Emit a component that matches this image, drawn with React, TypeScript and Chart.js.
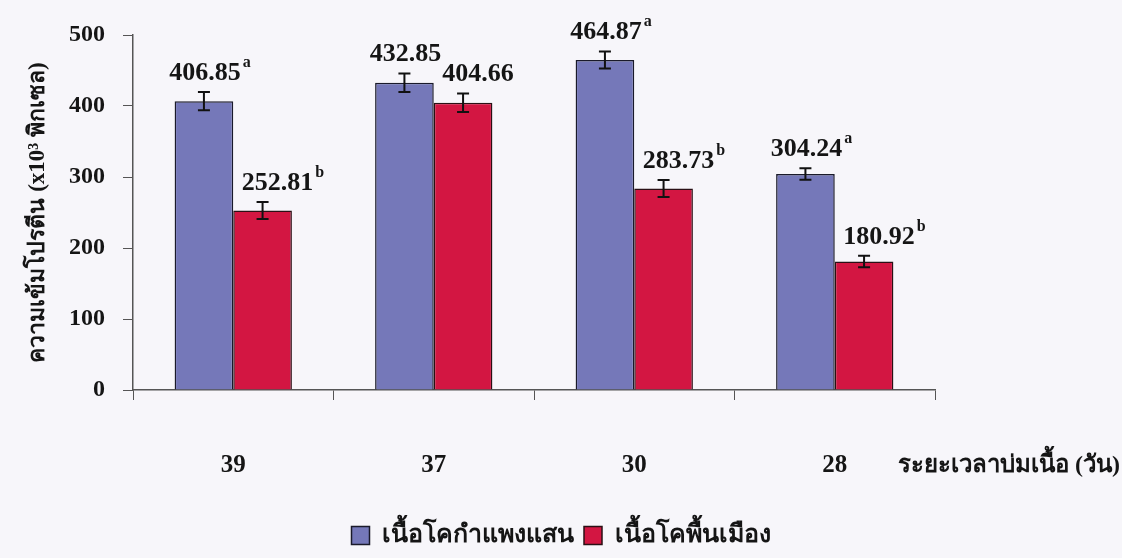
import React, { useEffect, useRef } from "react";
import { Chart, registerables } from "chart.js";

Chart.register(...registerables);

const categories = ["39", "37", "30", "28"];
const seriesNames = ["เนื้อโคกำแพงแสน", "เนื้อโคพื้นเมือง"];
const kamphaengsaen = [406.85, 432.85, 464.87, 304.24];
const native = [252.81, 404.66, 283.73, 180.92];
const kamphaengsaenErr = [13, 13, 12, 8];
const nativeErr = [12, 13, 12, 8];
const kamphaengsaenSig = ["a", "", "a", "a"];
const nativeSig = ["b", "", "b", "b"];
const yTicks = [0, 100, 200, 300, 400, 500];
const yTitle = "ความเข้มโปรตีน (x10³ พิกเซล)";
const xTitle = "ระยะเวลาบ่มเนื้อ (วัน)";

const SERIF = '"Liberation Serif", "Times New Roman", serif';
const errs = [kamphaengsaenErr, nativeErr];
const sigs = [kamphaengsaenSig, nativeSig];

const bgPlugin = {
  id: "bg",
  beforeDraw(chart: any) {
    const { ctx, width, height } = chart;
    ctx.save();
    ctx.fillStyle = "#f7f6fa";
    ctx.fillRect(0, 0, width, height);
    ctx.restore();
  },
};

const errLabelPlugin = {
  id: "errLabel",
  afterDatasetsDraw(chart: any) {
    const { ctx } = chart;
    const yScale = chart.scales.y;
    chart.data.datasets.forEach((ds: any, di: number) => {
      const meta = chart.getDatasetMeta(di);
      meta.data.forEach((bar: any, i: number) => {
        const v = ds.data[i];
        const e = errs[di][i];
        const yTop = yScale.getPixelForValue(v + e);
        const yBot = yScale.getPixelForValue(v - e);
        const x = bar.x;
        ctx.save();
        ctx.strokeStyle = "#111";
        ctx.lineWidth = 2;
        ctx.beginPath();
        ctx.moveTo(x, yTop);
        ctx.lineTo(x, yBot);
        ctx.moveTo(x - 6, yTop);
        ctx.lineTo(x + 6, yTop);
        ctx.moveTo(x - 6, yBot);
        ctx.lineTo(x + 6, yBot);
        ctx.stroke();
        const txt = v.toFixed(2);
        ctx.font = `bold 26px ${SERIF}`;
        ctx.fillStyle = "#151515";
        ctx.textBaseline = "alphabetic";
        ctx.textAlign = "center";
        const lx = x + (di === 1 ? 15 : 1);
        const ly = yTop - 12;
        ctx.fillText(txt, lx, ly);
        const w = ctx.measureText(txt).width;
        const s = sigs[di][i];
        if (s) {
          ctx.font = `bold 16px ${SERIF}`;
          ctx.textAlign = "left";
          ctx.fillText(s, lx + w / 2 + 2, ly - 13);
        }
        ctx.restore();
      });
    });
    const xScale = chart.scales.x;
    ctx.save();
    ctx.font = `bold 24px ${SERIF}`;
    ctx.fillStyle = "#151515";
    ctx.textAlign = "left";
    ctx.textBaseline = "middle";
    ctx.fillText(xTitle, xScale.right - 37, 466);
    ctx.restore();
  },
};

export default function App() {
  const ref = useRef<HTMLCanvasElement>(null);
  useEffect(() => {
    document.body.style.margin = "0";
    const chart = new Chart(ref.current!, {
      type: "bar",
      data: {
        labels: categories,
        datasets: [
          {
            label: seriesNames[0],
            data: kamphaengsaen,
            backgroundColor: "#7578b9",
            borderColor: "#1a1a2a",
            borderWidth: 1.5,
            categoryPercentage: 0.585,
            barPercentage: 1,
          },
          {
            label: seriesNames[1],
            data: native,
            backgroundColor: "#d31642",
            borderColor: "#2a1015",
            borderWidth: 1.5,
            categoryPercentage: 0.585,
            barPercentage: 1,
          },
        ],
      },
      options: {
        animation: false,
        responsive: false,
        maintainAspectRatio: false,
        layout: { padding: { left: 0, right: 0, top: 35, bottom: 0 } },
        plugins: {
          tooltip: { enabled: false },
          legend: {
            position: "bottom",
            labels: {
              color: "#151515",
              font: { family: SERIF, size: 25, weight: "bold" },
              boxWidth: 18,
              boxHeight: 18,
              padding: 10,
            },
          },
        },
        scales: {
          x: {
            afterFit: (s: any) => {
              s.height = 123;
            },
            grid: {
              drawOnChartArea: false,
              drawTicks: true,
              tickLength: 10,
              color: "#555",
              offset: true,
            },
            border: { display: true, color: "#555", width: 1.5 },
            ticks: {
              color: "#151515",
              padding: 51,
              font: { family: SERIF, size: 25, weight: "bold" },
            },
          },
          y: {
            min: 0,
            max: 500,
            afterFit: (s: any) => {
              s.width = 133;
            },
            afterBuildTicks: (s: any) => {
              s.ticks = yTicks.map((v) => ({ value: v }));
            },
            grid: {
              drawOnChartArea: false,
              drawTicks: true,
              tickLength: 10,
              color: "#555",
            },
            border: { display: true, color: "#555", width: 1.5 },
            ticks: {
              color: "#151515",
              padding: 18,
              font: { family: SERIF, size: 24, weight: "bold" },
            },
            title: {
              display: true,
              text: yTitle,
              color: "#151515",
              padding: { top: 24, bottom: 0 },
              font: { family: SERIF, size: 23, weight: "bold" },
            },
          },
          y2: {
            position: "right",
            min: 0,
            max: 1,
            afterFit: (s: any) => {
              s.width = 187;
            },
            grid: { display: false },
            border: { display: false },
            ticks: { display: false },
          },
        },
      },
      plugins: [bgPlugin, errLabelPlugin],
    } as any);
    return () => chart.destroy();
  }, []);
  return (
    <div style={{ position: "absolute", left: 0, top: 0, width: 1122, height: 558 }}>
      <canvas ref={ref} width={1122} height={558} />
    </div>
  );
}
